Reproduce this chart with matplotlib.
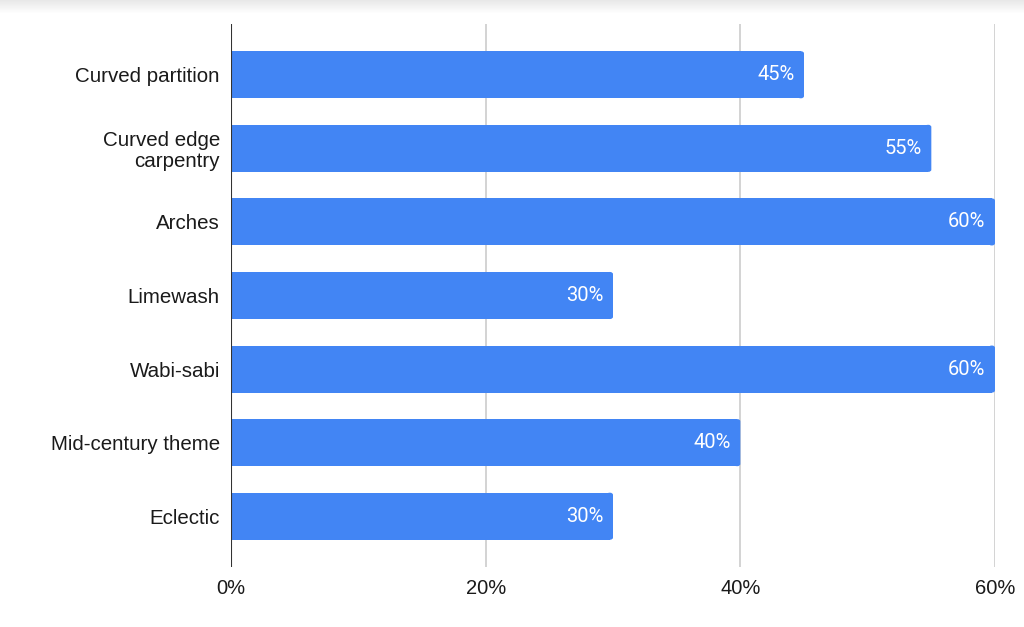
import numpy as np
import matplotlib.pyplot as plt
from matplotlib.patches import FancyBboxPatch

categories = ['Curved partition', 'Curved edge\ncarpentry', 'Arches', 'Limewash',
              'Wabi-sabi', 'Mid-century theme', 'Eclectic']
values = [45, 55, 60, 30, 60, 40, 30]
xticks = [0, 20, 40, 60]
xticklabels = ['0%', '20%', '40%', '60%']

blue = '#4285f4'

fig = plt.figure(figsize=(10.24, 6.27), dpi=100)
# faint grey shade along the top edge
for i, a in enumerate(np.linspace(0.09, 0.0, 14)):
    fig.patches.append(plt.Rectangle((0, 1 - (i + 1) / 627), 1, 1 / 627,
                                     transform=fig.transFigure, color='k',
                                     alpha=a, lw=0))

ax = fig.add_axes([231 / 1024, 1 - 567 / 627, (995 - 231) / 1024, (567 - 24) / 627])

y = np.arange(len(categories))
h = 0.64
r = 0.25
for yi, v in zip(y, values):
    # plain bar with a small rounded right end
    ax.barh(yi, v - r, height=h, left=0, color=blue, lw=0, zorder=3)
    ax.add_patch(FancyBboxPatch((v - 2 * r, yi - h / 2), 2 * r, h,
                                boxstyle='round,pad=0,rounding_size=0.25',
                                mutation_aspect=0.12, fc=blue, ec='none', zorder=3))
    ax.text(v - 0.75, yi, f'{v}%', ha='right', va='center', color='white',
            fontsize=14.5, family='Roboto', zorder=4)

ax.set_xlim(0, 60)
ax.set_ylim(len(categories) - 1 + 0.69, -0.69)
ax.set_yticks(y)
ax.set_yticklabels(categories, fontsize=14.8, family='Liberation Sans', color='#1a1a1a',
                   linespacing=1.1)
ax.set_xticks(xticks)
ax.set_xticklabels(xticklabels, fontsize=14.5, family='Liberation Sans', color='#1a1a1a')
ax.tick_params(axis='y', length=0, pad=8)
ax.tick_params(axis='x', length=0, pad=9)
for sp in ax.spines.values():
    sp.set_visible(False)
for t in xticks[1:]:
    ax.axvline(t, color='#cccccc', lw=1.2, zorder=1)
ax.axvline(0, color='#333333', lw=1.5, zorder=5)

fig.savefig('out.png', dpi=100)
